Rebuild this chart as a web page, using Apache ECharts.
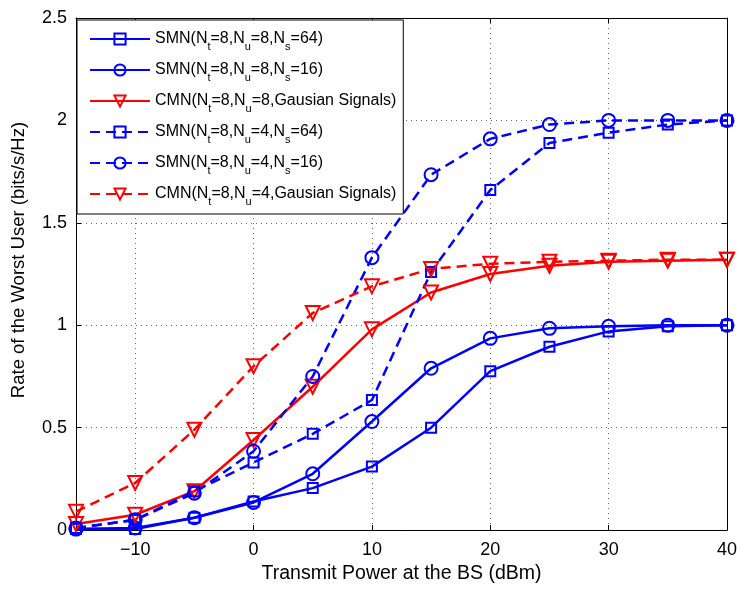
<!DOCTYPE html>
<html>
<head>
<meta charset="utf-8">
<script src="https://cdn.jsdelivr.net/npm/echarts@6/dist/echarts.min.js"></script>
<style>
* { margin: 0; padding: 0; }
body { background: #fff; }
#chart { width: 741px; height: 589px; }
</style>
</head>
<body>
<div id="chart"></div>
<script>
// transmit power (dBm)
var power = [-15, -10, -5, 0, 5, 10, 15, 20, 25, 30, 35, 40];
var xTicks = [-10, 0, 10, 20, 30, 40];

// rate of the worst user (bits/s/Hz)
var smnU8Ns64 = [0.005, 0.005, 0.06, 0.14, 0.205, 0.31, 0.5, 0.776, 0.895, 0.97, 0.995, 1.0];
var smnU8Ns16 = [0.005, 0.01, 0.06, 0.135, 0.275, 0.53, 0.79, 0.936, 0.985, 0.995, 1.0, 1.0];
var cmnU8 = [0.03, 0.075, 0.19, 0.44, 0.70, 0.98, 1.16, 1.25, 1.29, 1.31, 1.315, 1.32];
var smnU4Ns64 = [0.01, 0.05, 0.19, 0.33, 0.47, 0.635, 1.26, 1.66, 1.89, 1.94, 1.98, 2.0];
var smnU4Ns16 = [0.01, 0.05, 0.18, 0.385, 0.75, 1.33, 1.735, 1.91, 1.98, 2.0, 2.0, 2.0];
var cmnU4 = [0.09, 0.23, 0.49, 0.80, 1.06, 1.19, 1.275, 1.30, 1.31, 1.315, 1.32, 1.32];

var names = [
  'SMN(N{s|t}=8,N{s|u}=8,N{s|s}=64)',
  'SMN(N{s|t}=8,N{s|u}=8,N{s|s}=16)',
  'CMN(N{s|t}=8,N{s|u}=8,Gausian Signals)',
  'SMN(N{s|t}=8,N{s|u}=4,N{s|s}=64)',
  'SMN(N{s|t}=8,N{s|u}=4,N{s|s}=16)',
  'CMN(N{s|t}=8,N{s|u}=4,Gausian Signals)'
];

var BLUE = '#0000ff';
var RED = '#ff0000';
var FONT = '"Liberation Sans", Arial, sans-serif';

function pairs(vals) {
  return power.map(function (p, i) { return [p, vals[i]]; });
}

function makeSeries(name, vals, color, dashed, symbol) {
  var s = {
    name: name,
    type: 'line',
    data: pairs(vals),
    symbol: symbol,
    symbolSize: symbol === 'rect' ? 10 : (symbol === 'circle' ? 13 : 14),
    lineStyle: { color: color, width: 2.5, type: dashed ? [10, 6] : 'solid' },
    itemStyle: { color: 'rgba(255,255,255,0)', borderColor: color, borderWidth: 2 },
    emphasis: { disabled: true },
    animation: false
  };
  if (symbol === 'triangle') s.symbolRotate = 180;
  return s;
}

var chart = echarts.init(document.getElementById('chart'));

var gridDots = { show: true, lineStyle: { color: '#666', width: 1, type: [1, 4] } };

chart.setOption({
  backgroundColor: '#fff',
  animation: false,
  grid: { left: 76, right: 14, top: 18, bottom: 58 },
  legend: {
    orient: 'vertical',
    left: 77,
    top: 20,
    padding: [6, 7, 7, 12],
    itemWidth: 60,
    itemHeight: 14,
    itemGap: 5,
    backgroundColor: '#fff',
    borderColor: '#000',
    borderWidth: 1,
    borderRadius: 0,
    data: names,
    textStyle: {
      fontFamily: FONT,
      fontSize: 16,
      color: '#000',
      lineHeight: 26,
      rich: {
        s: { fontFamily: FONT, fontSize: 11, color: '#000', lineHeight: 10, verticalAlign: 'bottom' }
      }
    }
  },
  xAxis: [{
    type: 'value',
    min: -15,
    max: 40,
    name: 'Transmit Power at the BS (dBm)',
    nameLocation: 'middle',
    nameGap: 33,
    nameTextStyle: { fontFamily: FONT, fontSize: 19.5, color: '#000' },
    axisLine: { onZero: false, lineStyle: { color: '#000', width: 1 } },
    axisTick: { inside: true, length: 5, customValues: xTicks, lineStyle: { color: '#000' } },
    axisLabel: {
      customValues: xTicks,
      fontFamily: FONT, fontSize: 18, color: '#000', margin: 11,
      formatter: function (v) { return String(v).replace('-', '\u2212'); }
    },
    splitLine: gridDots
  }, {
    type: 'value',
    position: 'top',
    min: -15,
    max: 40,
    axisLine: { show: true, onZero: false, lineStyle: { color: '#000', width: 1 } },
    axisTick: { show: true, inside: true, length: 5, customValues: xTicks, lineStyle: { color: '#000' } },
    axisLabel: { show: false },
    splitLine: { show: false }
  }],
  yAxis: [{
    type: 'value',
    min: 0,
    max: 2.5,
    interval: 0.5,
    name: 'Rate of the Worst User (bits/s/Hz)',
    nameLocation: 'middle',
    nameGap: 48,
    nameTextStyle: { fontFamily: FONT, fontSize: 18.5, color: '#000', padding: [0, 0, 0, 28] },
    axisLine: { show: true, onZero: false, lineStyle: { color: '#000', width: 1 } },
    axisTick: { show: true, inside: true, length: 5, lineStyle: { color: '#000' } },
    axisLabel: { fontFamily: FONT, fontSize: 18, color: '#000', margin: 9 },
    splitLine: gridDots
  }, {
    type: 'value',
    position: 'right',
    min: 0,
    max: 2.5,
    interval: 0.5,
    axisLine: { show: true, onZero: false, lineStyle: { color: '#000', width: 1 } },
    axisTick: { show: true, inside: true, length: 5, lineStyle: { color: '#000' } },
    axisLabel: { show: false },
    splitLine: { show: false }
  }],
  series: [
    makeSeries(names[0], smnU8Ns64, BLUE, false, 'rect'),
    makeSeries(names[1], smnU8Ns16, BLUE, false, 'circle'),
    makeSeries(names[2], cmnU8, RED, false, 'triangle'),
    makeSeries(names[3], smnU4Ns64, BLUE, true, 'rect'),
    makeSeries(names[4], smnU4Ns16, BLUE, true, 'circle'),
    makeSeries(names[5], cmnU4, RED, true, 'triangle')
  ]
});
</script>
</body>
</html>
